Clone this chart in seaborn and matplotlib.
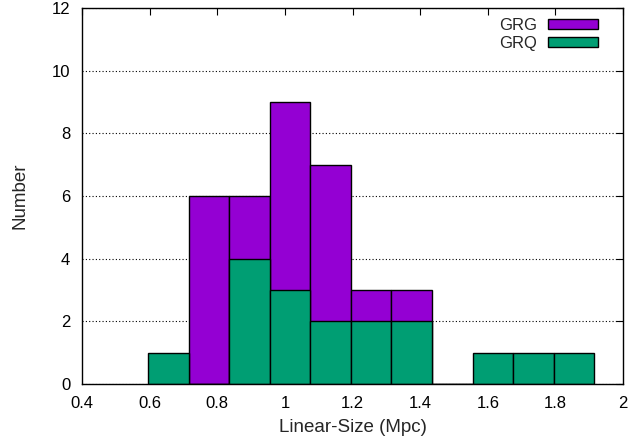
import matplotlib
matplotlib.use("Agg")
import matplotlib.pyplot as plt
import seaborn as sns
import numpy as np
import pandas as pd
from matplotlib.patches import Patch

# Data
size_mpc = [0.655, 0.775, 0.895, 1.015, 1.135, 1.255, 1.375, 1.495, 1.615, 1.735, 1.855]
grg_counts = [0, 6, 6, 9, 7, 3, 3, 0, 0, 0, 0]
grq_counts = [1, 0, 4, 3, 2, 2, 2, 0, 1, 1, 1]
x_ticks = [0.4, 0.6, 0.8, 1.0, 1.2, 1.4, 1.6, 1.8, 2.0]
x_tick_labels = ["0.4", "0.6", "0.8", "1", "1.2", "1.4", "1.6", "1.8", "2"]
y_ticks = [0, 2, 4, 6, 8, 10, 12]

sns.set_style("white")
plt.rcParams['font.family'] = ['Liberation Sans', 'DejaVu Sans']

df = pd.DataFrame({"size": size_mpc, "GRG": grg_counts, "GRQ": grq_counts})

fig = plt.figure(figsize=(6.43, 4.43), dpi=100)
ax = fig.add_axes([0.1275, 0.1332, 0.969 - 0.1275, 0.982 - 0.1332])

purple = "#9400D3"
green = "#009E73"
binwidth = 0.12
binrange = (0.595, 0.595 + binwidth * 11)

sns.histplot(data=df, x="size", weights="GRG", binwidth=binwidth, binrange=binrange,
             color=purple, alpha=1, edgecolor="black", linewidth=1.0, ax=ax, zorder=2)
sns.histplot(data=df, x="size", weights="GRQ", binwidth=binwidth, binrange=binrange,
             color=green, alpha=1, edgecolor="black", linewidth=1.0, ax=ax, zorder=3)

ax.set_xlim(0.4, 2.0)
ax.set_ylim(0, 12)
ax.set_xticks(x_ticks)
ax.set_xticklabels(x_tick_labels)
ax.set_yticks(y_ticks)
ax.yaxis.grid(True, linestyle=(0, (1, 2)), color="black", linewidth=0.8, zorder=0)
ax.xaxis.grid(False)
ax.set_axisbelow(True)

ax.tick_params(direction="in", length=5, width=0.8, top=True, right=True,
               labelsize=12, colors="black")
ax.tick_params(axis="x", pad=9)
ax.tick_params(axis="y", pad=8.5)
for s in ax.spines.values():
    s.set_color("black")
    s.set_linewidth(1.0)
    s.set_zorder(5)

ax.set_xlabel("Linear-Size (Mpc)", fontsize=13.5, va="top")
ax.xaxis.set_label_coords(0.5, -0.092)
ax.set_ylabel("Number", fontsize=13.5)
ax.yaxis.set_label_coords(-0.098, 0.5)

handles = [Patch(facecolor=purple, edgecolor="black", linewidth=1.0, label="GRG"),
           Patch(facecolor=green, edgecolor="black", linewidth=1.0, label="GRQ")]
ax.legend(handles=handles, loc="upper right", frameon=False, markerfirst=False,
          fontsize=12, handlelength=3.0, handleheight=0.55, handletextpad=0.66,
          labelspacing=0.15, borderpad=0, borderaxespad=0,
          bbox_to_anchor=(0.954, 0.973))

fig.savefig("out.png", dpi=100)
